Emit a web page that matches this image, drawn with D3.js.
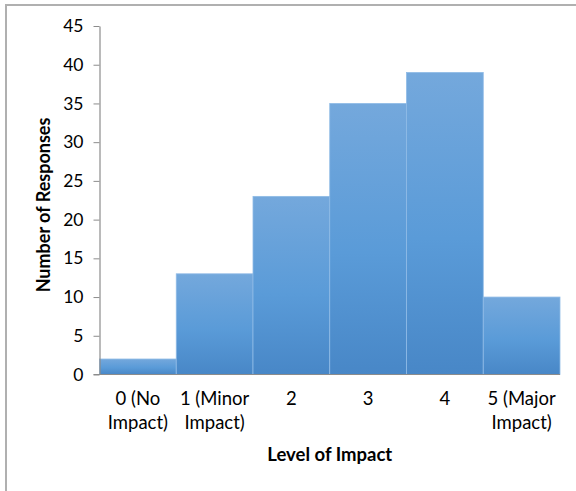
<!DOCTYPE html>
<html>
<head>
<meta charset="utf-8">
<script src="https://cdn.jsdelivr.net/npm/d3@7"></script>
<style>
  html, body { margin: 0; padding: 0; background: #fff; }
  svg { display: block; }
  text { font-family: Lato, "Open Sans", sans-serif; fill: #000; }
</style>
</head>
<body>
<svg id="chart" width="576" height="491"></svg>
<script>
// Survey responses by level of impact
const categories = [
  ["0 (No", "Impact)"],
  ["1 (Minor", "Impact)"],
  ["2"],
  ["3"],
  ["4"],
  ["5 (Major", "Impact)"]
];
const responses = [2, 13, 23, 35, 39, 10];
const yTicks = [0, 5, 10, 15, 20, 25, 30, 35, 40, 45];
const xTitle = "Level of Impact";
const yTitle = "Number of Responses";

const svg = d3.select("#chart");
const plot = { left: 99.5, right: 560, top: 26, bottom: 374.5 };

// Chart frame
svg.append("path")
  .attr("d", `M6,491 V5 H576`)
  .attr("fill", "none")
  .attr("stroke", "#b0b0b0")
  .attr("stroke-width", 2);

const x = d3.scaleBand()
  .domain(d3.range(categories.length))
  .range([plot.left, plot.right])
  .paddingInner(0)
  .paddingOuter(0);

const y = d3.scaleLinear()
  .domain([0, 45])
  .range([plot.bottom, plot.top]);

// Vertical shading on every bar
const defs = svg.append("defs");
const grad = defs.append("linearGradient")
  .attr("id", "barFill")
  .attr("x1", 0).attr("y1", 0).attr("x2", 0).attr("y2", 1);
grad.append("stop").attr("offset", "0%").attr("stop-color", "#74a8dc");
grad.append("stop").attr("offset", "55%").attr("stop-color", "#5a9bd8");
grad.append("stop").attr("offset", "100%").attr("stop-color", "#4887c7");

svg.append("g")
  .selectAll("rect")
  .data(responses)
  .join("rect")
  .attr("x", (d, i) => x(i))
  .attr("y", d => y(d))
  .attr("width", x.bandwidth())
  .attr("height", d => y(0) - y(d))
  .attr("fill", "url(#barFill)")
  .attr("stroke", "#8fbbe6")
  .attr("stroke-width", 0.8);

// Y axis
const yAxis = svg.append("g")
  .attr("transform", `translate(${plot.left},0)`)
  .call(d3.axisLeft(y).tickValues(yTicks).tickSize(6).tickPadding(10).tickSizeOuter(0));
yAxis.select(".domain").attr("stroke", "#8c8c8c").attr("stroke-width", 1.2);
yAxis.selectAll(".tick line").attr("stroke", "#8c8c8c");
yAxis.selectAll(".tick text")
  .attr("font-size", 17.5)
  .attr("fill", "#000")
  .attr("font-family", "Lato, sans-serif");

// X axis baseline
svg.append("line")
  .attr("x1", plot.left - 6).attr("x2", plot.right)
  .attr("y1", plot.bottom).attr("y2", plot.bottom)
  .attr("stroke", "#8c8c8c")
  .attr("stroke-width", 1.2);

// Category labels
const xl = svg.append("g")
  .selectAll("text")
  .data(categories)
  .join("text")
  .attr("x", (d, i) => x(i) + x.bandwidth() / 2)
  .attr("y", 405)
  .attr("text-anchor", "middle")
  .attr("font-size", 18.5)
  .attr("fill", "#000");
xl.selectAll("tspan")
  .data(d => d)
  .join("tspan")
  .attr("x", function() { return this.parentNode.getAttribute("x"); })
  .attr("dy", (d, i) => i === 0 ? 0 : 24)
  .text(d => d);

// Axis titles
svg.append("text")
  .attr("x", (plot.left + plot.right) / 2)
  .attr("y", 461)
  .attr("text-anchor", "middle")
  .attr("font-size", 18.5)
  .attr("font-weight", "bold")
  .text(xTitle);

svg.append("text")
  .attr("transform", "translate(50,205) rotate(-90)")
  .attr("text-anchor", "middle")
  .attr("font-size", 18)
  .attr("font-weight", "bold")
  .text(yTitle);
</script>
</body>
</html>
